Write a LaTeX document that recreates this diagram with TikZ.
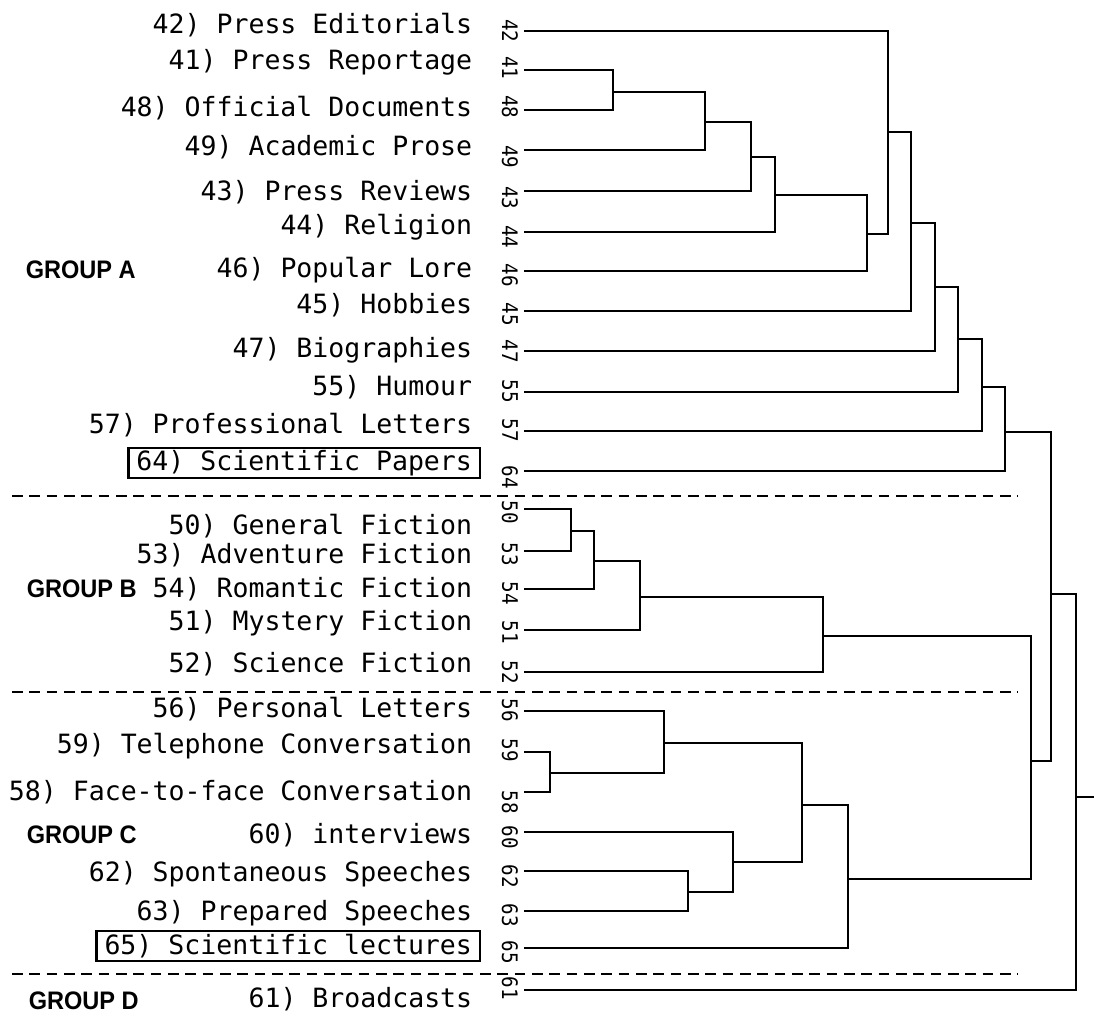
\documentclass[tikz,border=0pt]{standalone}
\usepackage{fontspec}
\setmonofont{DejaVu Sans Mono}
\setsansfont{Liberation Sans}
\newfontfamily\numfont[FakeStretch=0.9]{DejaVu Sans Mono}
\newfontfamily\groupfont[FakeStretch=0.93]{Liberation Sans}
\tikzset{
  every picture/.style={line width=1.2pt},
  genre/.style={font=\ttfamily\fontsize{19.9}{22}\selectfont, anchor=east, inner xsep=6pt, inner ysep=0pt, minimum height=22pt},
  plain/.style={},
  boxed/.style={draw, line width=1.6pt},
  num/.style={font=\numfont\fontsize{16}{16}\selectfont, rotate=-90, inner sep=0pt},
  group/.style={font=\groupfont\bfseries\fontsize{19}{21}\selectfont, anchor=west, inner sep=0pt},
  divider/.style={dash pattern=on 8pt off 5pt, line width=1.9pt},
  branch/.style={line width=1.2pt},
}

\begin{document}
\begin{tikzpicture}[x=0.75pt, y=-0.75pt]
  \useasboundingbox (0,0) rectangle (1094,1016);
  \newcommand{\dmerge}[5]{% name, x, y, upper child, lower child
    \coordinate (#1) at (#2,#3);
    \draw[branch] (#4) -| (#1) |- (#5);}
  % leaves: number / line y / label y / number y / label / style
  \foreach \n/\y/\ty/\ny/\txt/\st in {
      42/31/25/31/{42) Press Editorials}/plain,
      41/70/62/68/{41) Press Reportage}/plain,
      48/110/108/107/{48) Official Documents}/plain,
      49/150/147/157/{49) Academic Prose}/plain,
      43/191/192/198/{43) Press Reviews}/plain,
      44/232/227/237/{44) Religion}/plain,
      46/271/270/275/{46) Popular Lore}/plain,
      45/311/305/314/{45) Hobbies}/plain,
      47/351/350/351/{47) Biographies}/plain,
      55/392/387/391/{55) Humour}/plain,
      57/431/425/430/{57) Professional Letters}/plain,
      64/471/463/477/{64) Scientific Papers}/boxed,
      50/509/526/512/{50) General Fiction}/plain,
      53/551/555/554/{53) Adventure Fiction}/plain,
      54/589/589/593/{54) Romantic Fiction}/plain,
      51/630/623/632/{51) Mystery Fiction}/plain,
      52/672/664/672/{52) Science Fiction}/plain,
      56/711/709/710/{56) Personal Letters}/plain,
      59/752/746/750/{59) Telephone Conversation}/plain,
      58/792/792/802/{58) Face-to-face Conversation}/plain,
      60/832/835/837/{60) interviews}/plain,
      62/871/874/876/{62) Spontaneous Speeches}/plain,
      63/911/913/915/{63) Prepared Speeches}/plain,
      65/948/946/952/{65) Scientific lectures}/boxed,
      61/990/999/988/{61) Broadcasts}/plain}{
    \coordinate (l\n) at (524,\y);
    \node[num] (n\n) at (510,\ny) {\n};
    \node[genre,\st] (t\n) at (481,\ty) {\txt};
  }
  % group A
  \dmerge{a1}{613}{92}{l41}{l48}
  \dmerge{a2}{705}{122}{a1}{l49}
  \dmerge{a3}{751}{157}{a2}{l43}
  \dmerge{a4}{775}{195}{a3}{l44}
  \dmerge{a5}{867}{234}{a4}{l46}
  \dmerge{a6}{888}{132}{l42}{a5}
  \dmerge{a7}{911}{223}{a6}{l45}
  \dmerge{a8}{935}{287}{a7}{l47}
  \dmerge{a9}{958}{339}{a8}{l55}
  \dmerge{a10}{982}{387}{a9}{l57}
  \dmerge{a11}{1005}{432}{a10}{l64}
  % group B
  \dmerge{b1}{571}{531}{l50}{l53}
  \dmerge{b2}{594}{561}{b1}{l54}
  \dmerge{b3}{640}{597}{b2}{l51}
  \dmerge{b4}{823}{636}{b3}{l52}
  % group C
  \dmerge{c1}{550}{773}{l59}{l58}
  \dmerge{c2}{664}{743}{l56}{c1}
  \dmerge{c3}{688}{892}{l62}{l63}
  \dmerge{c4}{733}{862}{l60}{c3}
  \dmerge{c5}{802}{805}{c2}{c4}
  \dmerge{c6}{848}{879}{c5}{l65}
  % joins
  \dmerge{bc}{1031}{761}{b4}{c6}
  \dmerge{abc}{1051}{594}{a11}{bc}
  \dmerge{root}{1076}{797}{abc}{l61}
  \coordinate (out) at (1094,797);
  \draw[branch] (root) -- (out);
  \foreach \y in {496,692,974} \draw[divider] (12,\y) -- (1018,\y);
  \node[group] (gA) at (25,270) {GROUP A};
  \node[group] (gB) at (26,589) {GROUP B};
  \node[group] (gC) at (26,835) {GROUP C};
  \node[group] (gD) at (28,1001) {GROUP D};
\end{tikzpicture}
\end{document}
